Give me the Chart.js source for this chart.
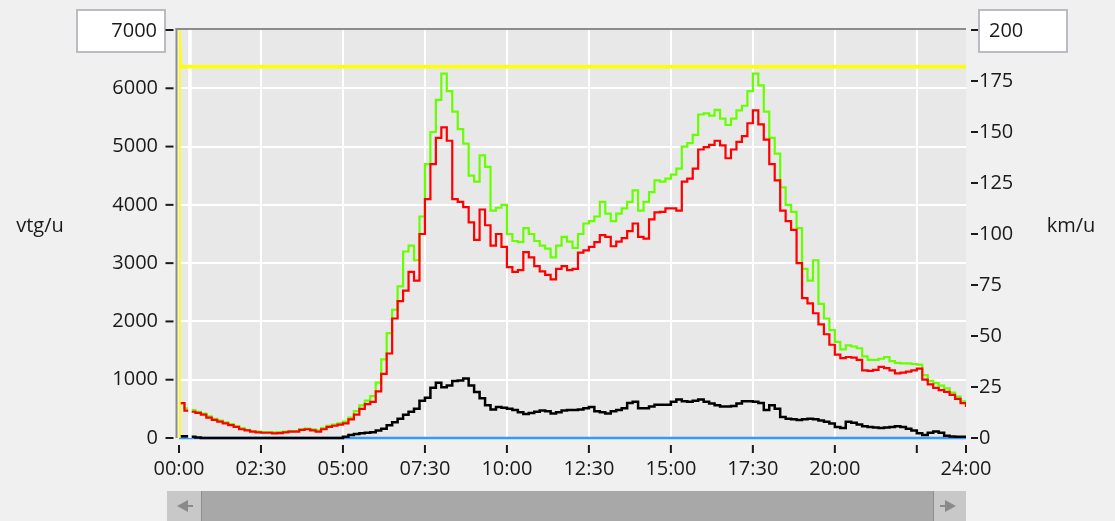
<!DOCTYPE html>
<html>
<head>
<meta charset="utf-8">
<script src="https://cdn.jsdelivr.net/npm/chart.js@4"></script>
<style>
  html, body { margin: 0; padding: 0; background: #f0f0f0; }
  #wrap { position: relative; width: 1115px; height: 521px; overflow: hidden; }
  canvas { position: absolute; left: 0; top: 0; }
  .sb { position: absolute; left: 167px; top: 491px; width: 799px; height: 32px; background: #a8a8a8; }
  .btn { position: absolute; top: 0; width: 34px; height: 32px; background: #c8c8c8; }
  .btn.l { left: 0; border-right: 1px solid #8e8e8e; }
  .btn.r { right: 0; width: 32px; border-left: 1px solid #8e8e8e; }
  .arr { position: absolute; top: 9px; width: 0; height: 0; border-top: 6px solid transparent; border-bottom: 6px solid transparent; }
  .btn.l .arr { left: 10px; border-right: 11px solid #8a8a8a; }
  .btn.r .arr { left: 11px; border-left: 11px solid #8a8a8a; }
  .tail { position: absolute; top: 14px; width: 6px; height: 2px; background: #8a8a8a; }
  .btn.l .tail { left: 20px; }
  .btn.r .tail { left: 6px; }
</style>
</head>
<body>
<div id="wrap">
  <canvas id="c" width="1115" height="521"></canvas>
  <div class="sb">
    <div class="btn l"><div class="arr"></div><div class="tail"></div></div>
    <div class="btn r"><div class="arr"></div><div class="tail"></div></div>
  </div>
</div>
<script>
// Sample grid: one value every 10 minutes over the day (0 .. 1440 min)
const sampleMinutes = Array.from({ length: 145 }, (_, i) => i * 10);

// Intensity, total (vtg/u) - green
const totalFlow = [
  600, 510, 480, 450, 420, 370, 330, 300, 270, 240, 200, 170, 140, 120, 110,
  100, 100, 95, 100, 110, 120, 120, 150, 160, 150, 130, 170, 210, 230, 250,
  280, 350, 460, 560, 640, 720, 950, 1350, 1800, 2200, 2600, 3200, 3300, 3050, 3800,
  4700, 5250, 5800, 6250, 5950, 5600, 5300, 5050, 4500, 4400, 4850, 4650, 3900, 3950, 4000,
  3500, 3380, 3360, 3600, 3500, 3380, 3300, 3250, 3100, 3300, 3450, 3370, 3260, 3500, 3680,
  3720, 3800, 4050, 3850, 3720, 3850, 3940, 4050, 4250, 3900, 4050, 4220, 4420, 4400, 4450,
  4520, 4620, 5000, 5060, 5200, 5550, 5570, 5530, 5630, 5480, 5370, 5480, 5620, 5700, 5950,
  6250, 6050, 5600, 5150, 4880, 4300, 4000, 3880, 3600, 2900, 2700, 3050, 2300, 2050, 1850,
  1650, 1520, 1590, 1570, 1540, 1400, 1340, 1340, 1360, 1390, 1320, 1290, 1280, 1280, 1270,
  1260, 1080, 980, 940, 900, 850, 780, 710, 630, 560
];

// Intensity, passenger cars (vtg/u) - red
const carFlow = [
  600, 470, 450, 430, 400, 350, 310, 280, 250, 220, 190, 150, 130, 110, 95,
  90, 90, 80, 85, 95, 110, 110, 140, 150, 130, 110, 150, 190, 210, 230,
  250, 320, 400, 500, 580, 620, 800, 1100, 1450, 2050, 2350, 2530, 2850, 2700, 3500,
  4100, 4700, 5150, 5330, 5100, 4100, 4050, 3960, 3700, 3400, 3920, 3650, 3300, 3500, 3280,
  2930, 2850, 2880, 3190, 3100, 2950, 2860, 2800, 2720, 2900, 2950, 2880, 2900, 3180, 3220,
  3280, 3360, 3480, 3450, 3290, 3370, 3430, 3550, 3680, 3450, 3420, 3750, 3870, 3880, 3940,
  3940, 3900, 4400, 4450, 4620, 4950, 4990, 5030, 5100, 5020, 4800, 4950, 5080, 5180, 5400,
  5620, 5380, 5120, 4700, 4420, 3900, 3720, 3570, 3000, 2400, 2310, 2140, 1950, 1780, 1600,
  1430, 1370, 1390, 1380, 1340, 1160, 1150, 1170, 1220, 1200, 1160, 1110, 1120, 1140, 1160,
  1190, 1000, 920, 860, 820, 790, 740, 670, 600, 530
];

// Intensity, trucks (vtg/u) - black
const truckFlow = [
  30, 30, 20, 10, 0, 0, 0, 0, 0, 0, 0, 0, 0, 0, 0,
  0, 0, 0, 0, 0, 0, 0, 0, 0, 0, 0, 0, 0, 0, 0,
  20, 50, 70, 80, 90, 100, 130, 160, 220, 270, 330, 400, 450, 500, 640,
  690, 860, 950, 870, 900, 980, 985, 1020, 900, 790, 680, 560, 490, 530, 520,
  500, 480, 440, 410, 430, 450, 470, 460, 420, 440, 470, 480, 480, 490, 510,
  530, 460, 440, 420, 460, 480, 510, 600, 620, 510, 510, 540, 570, 570, 570,
  620, 660, 630, 620, 640, 660, 620, 590, 560, 540, 540, 550, 590, 630, 630,
  620, 600, 480, 560, 500, 360, 330, 320, 310, 320, 330, 320, 300, 280, 250,
  190, 170, 280, 260, 230, 200, 190, 180, 170, 180, 190, 200, 190, 160, 130,
  80, 50, 90, 110, 90, 40, 25, 20, 20, 20
];

// Speed (km/u) - blue
const speedMinutes = [0, 1440];
const speedValues = [0, 0];

// Speed limit line (km/u) - yellow
const limitMinutes = [0, 0, 2, 1440];
const limitValues = [0, 200, 182, 182];

// Cursor position (minutes)
const cursorMinute = 20;

// Axis ticks
const xTickMinutes = [0, 150, 300, 450, 600, 750, 900, 1050, 1200, 1350, 1440];
const xTickLabels = ['00:00', '02:30', '05:00', '07:30', '10:00', '12:30', '15:00', '17:30', '20:00', '', '24:00'];
const leftMax = 7000, leftStep = 1000;
const rightMax = 200, rightStep = 25;
const leftTitle = 'vtg/u';
const rightTitle = 'km/u';

const pts = (xs, ys) => xs.map((x, i) => ({ x, y: ys[i] }));

const TEXT = '#1a1a1a';
Chart.defaults.font.family = "'Open Sans', 'Noto Sans', sans-serif";
Chart.defaults.font.size = 20;
Chart.defaults.color = TEXT;

const panel = {
  id: 'panel',
  beforeDraw(chart) {
    const { ctx, chartArea: a } = chart;
    ctx.save();
    ctx.fillStyle = '#e8e8e8';
    ctx.fillRect(a.left, a.top, a.right - a.left, a.bottom - a.top);
    // edit boxes holding the scale maxima
    const yL = chart.scales.y.getPixelForValue(leftMax);
    ctx.fillStyle = '#ffffff';
    ctx.strokeStyle = '#b9bcc2';
    ctx.lineWidth = 2;
    ctx.fillRect(a.left - 102, yL - 20, 88, 42);
    ctx.strokeRect(a.left - 102, yL - 20, 88, 42);
    const yR = chart.scales.y2.getPixelForValue(rightMax);
    ctx.fillRect(a.right + 13, yR - 20, 88, 42);
    ctx.strokeRect(a.right + 13, yR - 20, 88, 42);
    ctx.restore();
  },
  beforeDatasetsDraw(chart) {
    const { ctx, chartArea: a, scales } = chart;
    ctx.save();
    // frame
    ctx.fillStyle = '#8c8c8c';
    ctx.fillRect(a.left - 3.5, a.top - 2, 2, a.bottom - a.top + 2);
    ctx.fillRect(a.left - 3.5, a.top - 2, a.right - a.left + 3.5, 2);
    // tick marks
    ctx.fillStyle = '#1a1a1a';
    scales.y.ticks.forEach(t => {
      const y = scales.y.getPixelForValue(t.value);
      ctx.fillRect(a.left - 13.5, y - 1, 8, 2);
    });
    scales.y2.ticks.forEach(t => {
      const y = scales.y2.getPixelForValue(t.value);
      ctx.fillRect(a.right + 5, y - 1, 7, 2);
    });
    scales.x.ticks.forEach(t => {
      const x = scales.x.getPixelForValue(t.value);
      ctx.fillRect(x - 1, a.bottom + 7, 2, 8);
    });
    ctx.restore();
  },
  afterDraw(chart) {
    const { ctx, chartArea: a, scales } = chart;
    ctx.save();
    ctx.fillStyle = TEXT;
    ctx.font = "20px 'Open Sans', 'Noto Sans', sans-serif";
    ctx.textBaseline = 'middle';
    ctx.textAlign = 'right';
    ctx.fillText(String(leftMax), a.left - 22, scales.y.getPixelForValue(leftMax) + 1);
    ctx.textAlign = 'left';
    ctx.fillText(String(rightMax), a.right + 23, scales.y2.getPixelForValue(rightMax) + 1);
    const midY = (a.top + a.bottom) / 2 - 8;
    ctx.textAlign = 'center';
    ctx.fillText(leftTitle, 40, midY);
    ctx.fillText(rightTitle, chart.width - 44, midY);
    ctx.restore();
  }
};

const lineStyle = { pointRadius: 0, tension: 0, fill: false, borderJoinStyle: 'miter' };
const lowClip = { left: 0, top: 0, right: 0, bottom: 4 };

// vertical scales: fixed width, no extra label padding above/below the plot
const fixVertical = w => s => { s.width = w; s.paddingTop = 0; s.paddingBottom = 0; };

new Chart(document.getElementById('c'), {
  type: 'line',
  data: {
    datasets: [
      { ...lineStyle, label: 'limiet', data: pts(limitMinutes, limitValues), yAxisID: 'y2',
        borderColor: '#ffff00', borderWidth: 3.5, order: 0 },
      { ...lineStyle, label: 'cursor', data: [{ x: cursorMinute, y: 0 }, { x: cursorMinute, y: leftMax }], yAxisID: 'y',
        borderColor: '#ffffff', borderWidth: 3.5, order: 1, clip: lowClip },
      { ...lineStyle, label: 'vrachtverkeer', data: pts(sampleMinutes, truckFlow), yAxisID: 'y',
        borderColor: '#000000', borderWidth: 2.5, stepped: true, order: 2, clip: lowClip },
      { ...lineStyle, label: 'personenauto', data: pts(sampleMinutes, carFlow), yAxisID: 'y',
        borderColor: '#ff0000', borderWidth: 2.2, stepped: true, order: 3, clip: lowClip },
      { ...lineStyle, label: 'totaal', data: pts(sampleMinutes, totalFlow), yAxisID: 'y',
        borderColor: '#66ff00', borderWidth: 2.2, stepped: true, order: 4, clip: lowClip },
      { ...lineStyle, label: 'snelheid', data: pts(speedMinutes, speedValues), yAxisID: 'y2',
        borderColor: '#3399ff', borderWidth: 2.5, order: 5, clip: lowClip }
    ]
  },
  options: {
    responsive: false,
    animation: false,
    devicePixelRatio: 1,
    layout: { padding: { top: 30, left: 0, right: 0, bottom: 0 } },
    plugins: { legend: { display: false }, tooltip: { enabled: false } },
    scales: {
      x: {
        type: 'linear', min: 0, max: 1440,
        afterBuildTicks: s => { s.ticks = xTickMinutes.map(v => ({ value: v })); },
        afterFit: s => { s.height = 83; },
        ticks: {
          autoSkip: false, maxRotation: 0, padding: 19,
          callback: v => xTickLabels[xTickMinutes.indexOf(v)]
        },
        grid: {
          drawTicks: false, lineWidth: 2,
          color: c => (c.tick && (c.tick.value === 1440 || c.tick.value === 0)) ? 'rgba(0,0,0,0)' : '#ffffff'
        },
        border: { display: false }
      },
      y: {
        position: 'left', min: 0, max: leftMax,
        afterFit: fixVertical(179),
        ticks: { stepSize: leftStep, padding: 21, callback: v => v === leftMax ? '' : String(v) },
        grid: {
          drawTicks: false, lineWidth: 2,
          color: c => (c.tick && (c.tick.value === leftMax || c.tick.value === 0)) ? 'rgba(0,0,0,0)' : '#ffffff'
        },
        border: { display: false }
      },
      y2: {
        position: 'right', min: 0, max: rightMax,
        afterFit: fixVertical(149),
        ticks: { stepSize: rightStep, padding: 13, callback: v => v === rightMax ? '' : String(v) },
        grid: { display: false, drawTicks: false },
        border: { display: false }
      }
    }
  },
  plugins: [panel]
});
</script>
</body>
</html>
